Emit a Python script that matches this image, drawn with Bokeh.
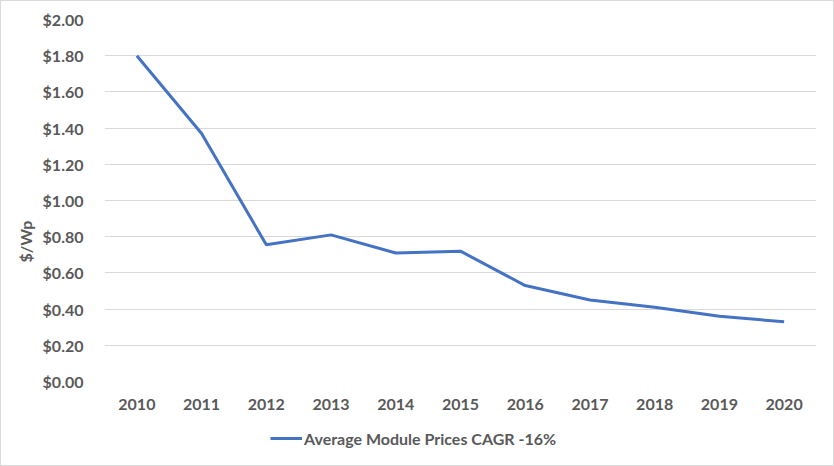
from bokeh.plotting import figure
from bokeh.layouts import column
from bokeh.models import FactorRange, Range1d, Legend, LegendItem, Title, SingleIntervalTicker, NumeralTickFormatter
from bokeh.embed import file_html
from bokeh.resources import INLINE

years = ["2010", "2011", "2012", "2013", "2014", "2015", "2016", "2017", "2018", "2019", "2020"]
prices = [1.80, 1.37, 0.755, 0.81, 0.71, 0.72, 0.53, 0.45, 0.41, 0.36, 0.33]
series_name = "Average Module Prices CAGR -16%"
y_label = "$/Wp"

FONT = "Lato"
TXT = "#595959"
BLUE = "#4472C4"

p = figure(x_range=FactorRange(*years), y_range=Range1d(0, 2.0),
           frame_width=712, frame_height=362,
           min_border_left=103, min_border_right=17, min_border_top=18, min_border_bottom=40,
           output_backend="svg", toolbar_location=None)
p.outline_line_color = None
p.background_fill_color = "white"
p.border_fill_color = "white"

r = p.line(years, prices, line_color=BLUE, line_width=3)

p.xgrid.grid_line_color = None
p.ygrid.grid_line_color = "#d9d9d9"
p.ygrid.grid_line_width = 1

p.yaxis.ticker = SingleIntervalTicker(interval=0.2)
p.yaxis.formatter = NumeralTickFormatter(format="$0.00")
for ax in (p.xaxis[0], p.yaxis[0]):
    ax.axis_line_color = None
    ax.major_tick_line_color = None
    ax.minor_tick_line_color = None
    ax.major_label_text_font = FONT
    ax.major_label_text_font_style = "bold"
    ax.major_label_text_font_size = "16px"
    ax.major_label_text_color = TXT
p.yaxis.major_label_standoff = 15
p.xaxis.major_label_standoff = 11

ttl = Title(text=y_label, align="left", offset=119, standoff=10,
            text_font=FONT, text_font_style="bold", text_font_size="16px", text_color=TXT)
p.add_layout(ttl, "left")

# legend strip below the chart (same series, drawn out of view; only its legend shows)
pl = figure(width=832, height=44, x_range=FactorRange(*years), y_range=Range1d(10, 11),
            min_border=0, x_axis_location=None, y_axis_location=None,
            output_backend="svg", toolbar_location=None)
pl.outline_line_color = None
pl.grid.grid_line_color = None
pl.border_fill_color = "white"
pl.background_fill_color = "white"
rl = pl.line(years, prices, line_color=BLUE, line_width=3)

legend = Legend(items=[LegendItem(label=series_name, renderers=[rl])],
                location=(166, 17), orientation="horizontal",
                padding=0, margin=0, spacing=0, label_standoff=2,
                glyph_width=32, glyph_height=20,
                border_line_color=None, background_fill_alpha=0,
                label_text_font=FONT, label_text_font_style="bold",
                label_text_font_size="16px", label_text_color=TXT)
pl.add_layout(legend, "center")

layout = column(p, pl, spacing=0)
layout.styles = {"border": "1px solid #d9d9d9"}

open("out.html", "w").write(file_html(layout, INLINE))
